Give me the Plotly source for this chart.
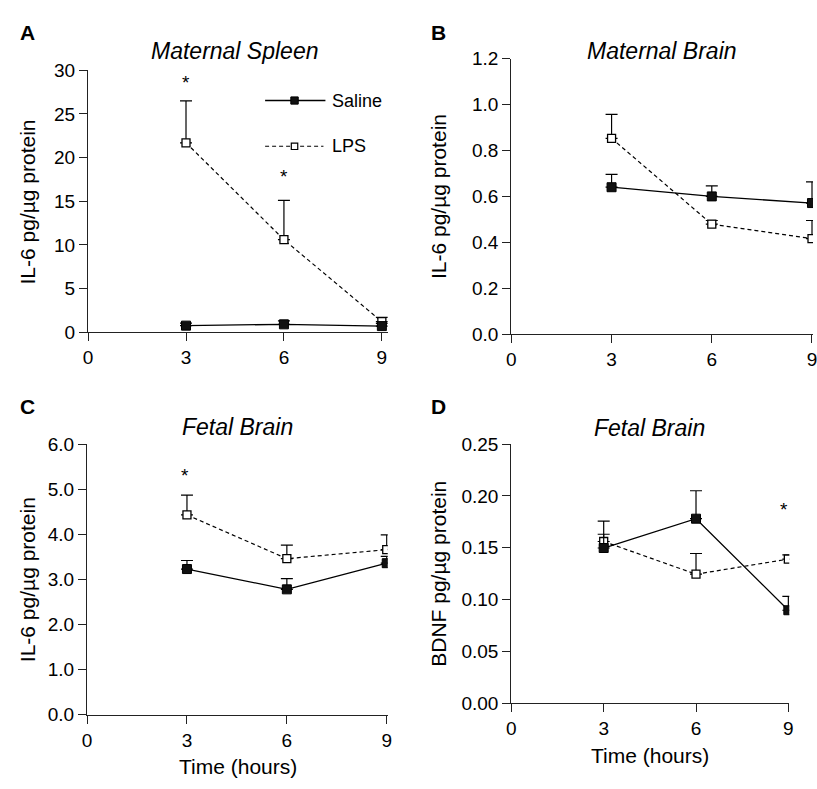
import plotly.graph_objects as go

W, H = 817, 789

# ---------------- data ----------------
time_h = [3, 6, 9]

spleen_saline = [0.75, 0.9, 0.7]
spleen_saline_err = [0.3, 0.4, 0.3]
spleen_lps = [21.7, 10.6, 1.2]
spleen_lps_err = [4.8, 4.5, 0.5]

mbrain_saline = [0.64, 0.60, 0.571]
mbrain_saline_err = [0.056, 0.046, 0.092]
mbrain_lps = [0.853, 0.479, 0.416]
mbrain_lps_err = [0.104, 0.016, 0.079]

fbrain_saline = [3.23, 2.78, 3.36]
fbrain_saline_err = [0.19, 0.24, 0.15]
fbrain_lps = [4.43, 3.46, 3.66]
fbrain_lps_err = [0.44, 0.30, 0.33]

bdnf_saline = [0.1497, 0.178, 0.0896]
bdnf_saline_err = [0.0133, 0.027, 0.0134]
bdnf_lps = [0.156, 0.1244, 0.139]
bdnf_lps_err = [0.0197, 0.020, 0.004]

# significance stars (x, y) per panel
stars_A = ([3, 6], [28.6, 17.8])
stars_C = ([2.95], [5.3])
stars_D = ([8.85], [0.187])

y_ticks_A = [0, 5, 10, 15, 20, 25, 30]
y_ticks_B = [0.0, 0.2, 0.4, 0.6, 0.8, 1.0, 1.2]
y_ticks_C = [0.0, 1.0, 2.0, 3.0, 4.0, 5.0, 6.0]
y_ticks_D = [0.00, 0.05, 0.10, 0.15, 0.20, 0.25]
x_ticks = [0, 3, 6, 9]

FONT = "Liberation Sans, Arial, sans-serif"


def px(xp):
    return xp / W


def py(yp):
    return 1 - yp / H


fig = go.Figure()

panels = [
    ("A", "x", "y", spleen_saline, spleen_saline_err, spleen_lps, spleen_lps_err),
    ("B", "x2", "y2", mbrain_saline, mbrain_saline_err, mbrain_lps, mbrain_lps_err),
    ("C", "x3", "y3", fbrain_saline, fbrain_saline_err, fbrain_lps, fbrain_lps_err),
    ("D", "x4", "y4", bdnf_saline, bdnf_saline_err, bdnf_lps, bdnf_lps_err),
]

for name, xa, ya, sal, sal_e, lps, lps_e in panels:
    fig.add_trace(go.Scatter(
        x=time_h, y=lps, xaxis=xa, yaxis=ya, mode="lines+markers",
        name="LPS", showlegend=False,
        line=dict(color="black", width=1.2, dash="4px,3px"),
        marker=dict(symbol="square", size=8, color="white",
                    line=dict(color="black", width=1.3)),
        error_y=dict(type="data", array=lps_e, arrayminus=[0] * 3,
                     symmetric=False, color="black", thickness=1.2, width=6),
    ))
    fig.add_trace(go.Scatter(
        x=time_h, y=sal, xaxis=xa, yaxis=ya, mode="lines+markers",
        name="Saline", showlegend=False,
        line=dict(color="black", width=1.3),
        marker=dict(symbol="square", size=9, color="#111111",
                    line=dict(color="black", width=1)),
        error_y=dict(type="data", array=sal_e, arrayminus=[0] * 3,
                     symmetric=False, color="black", thickness=1.2, width=6),
    ))

axis_common = dict(showline=True, linecolor="#222222", linewidth=1.3,
                   ticks="outside", ticklen=8, tickwidth=1.3, tickcolor="#222222",
                   showgrid=False, zeroline=False, fixedrange=True,
                   tickfont=dict(family=FONT, size=19, color="black"))

layout = dict(
    width=W, height=H, margin=dict(l=0, r=0, t=0, b=0),
    paper_bgcolor="white", plot_bgcolor="white", showlegend=False,
    font=dict(family=FONT, color="black"),
    xaxis=dict(domain=[px(84), px(387)], range=[0, 9.18], tickvals=x_ticks,
               anchor="y", **axis_common),
    yaxis=dict(domain=[py(331), py(62)], range=[0, 30], tickvals=y_ticks_A,
               anchor="x", **axis_common),
    xaxis2=dict(domain=[px(512), 1.0], range=[0, 9.03], tickvals=x_ticks,
                anchor="y2", ticklabeloverflow="allow", **axis_common),
    yaxis2=dict(domain=[py(333), py(50)], range=[0, 1.2], tickvals=y_ticks_B,
                tickformat=".1f", anchor="x2", **axis_common),
    xaxis3=dict(domain=[px(83), px(387)], range=[0, 9.03], tickvals=x_ticks,
                anchor="y3", **axis_common),
    yaxis3=dict(domain=[py(724), py(446)], range=[0, 6], tickvals=y_ticks_C,
                tickformat=".1f", anchor="x3", **axis_common),
    xaxis4=dict(domain=[px(512), px(793)], range=[0, 9.03], tickvals=x_ticks,
                anchor="y4", **axis_common),
    yaxis4=dict(domain=[py(712), py(446)], range=[0, 0.25], tickvals=y_ticks_D,
                tickformat=".2f", anchor="x4", **axis_common),
)
fig.update_layout(**layout)

ann = []


def text(x, y, s, size, **kw):
    d = dict(x=px(x), y=py(y), xref="paper", yref="paper", text=s,
             showarrow=False, xanchor="center", yanchor="middle",
             font=dict(family=FONT, size=size, color="black"))
    d.update(kw)
    ann.append(d)


# panel letters
for lx, ly, s in [(23, 23, "A"), (438, 23, "B"), (23, 407, "C"), (438, 407, "D")]:
    text(lx, ly, "<b>%s</b>" % s, 21)

# panel titles
text(233, 42, "<i>Maternal Spleen</i>", 23)
text(664, 42, "<i>Maternal Brain</i>", 23)
text(235, 428, "<i>Fetal Brain</i>", 23)
text(652, 429, "<i>Fetal Brain</i>", 23)

# y titles
text(23, 197, "IL-6 pg/µg protein", 21, textangle=-90)
text(439, 192, "IL-6 pg/µg protein", 21, textangle=-90)
text(23, 585, "IL-6 pg/µg protein", 21, textangle=-90)
text(438, 579, "BDNF pg/µg protein", 21, textangle=-90)

# x titles
text(236, 777, "Time (hours)", 21)
text(652, 766, "Time (hours)", 21)

# stars
for (xs, ys), xr, yr in [(stars_A, "x", "y"), (stars_C, "x3", "y3"), (stars_D, "x4", "y4")]:
    for sx, sy in zip(xs, ys):
        ann.append(dict(x=sx, y=sy, xref=xr, yref=yr, text="*", showarrow=False,
                        xanchor="center", yanchor="middle",
                        font=dict(family=FONT, size=19, color="black")))

# legend text
text(329, 93, "Saline", 18, xanchor="left")
text(329, 140, "LPS", 18, xanchor="left")

fig.update_layout(annotations=ann)

# manual legend symbols inside panel A
shapes = [
    dict(type="line", xref="paper", yref="paper", x0=px(263), x1=px(324),
         y0=py(93), y1=py(93), line=dict(color="black", width=1.3)),
    dict(type="line", xref="paper", yref="paper", x0=px(263), x1=px(322),
         y0=py(140), y1=py(140), line=dict(color="black", width=1.2, dash="4px,3px")),
    dict(type="rect", xref="paper", yref="paper", x0=px(289), x1=px(296.5),
         y0=py(96.7), y1=py(89.3), fillcolor="#111111", line=dict(color="black", width=1)),
    dict(type="rect", xref="paper", yref="paper", x0=px(289.5), x1=px(296),
         y0=py(143.3), y1=py(136.7), fillcolor="white", line=dict(color="black", width=1.2)),
]
fig.update_layout(shapes=shapes)

fig.write_html("out.html", config={"displayModeBar": False},
               post_script="document.body.style.margin='0';document.body.style.overflow='hidden';")
